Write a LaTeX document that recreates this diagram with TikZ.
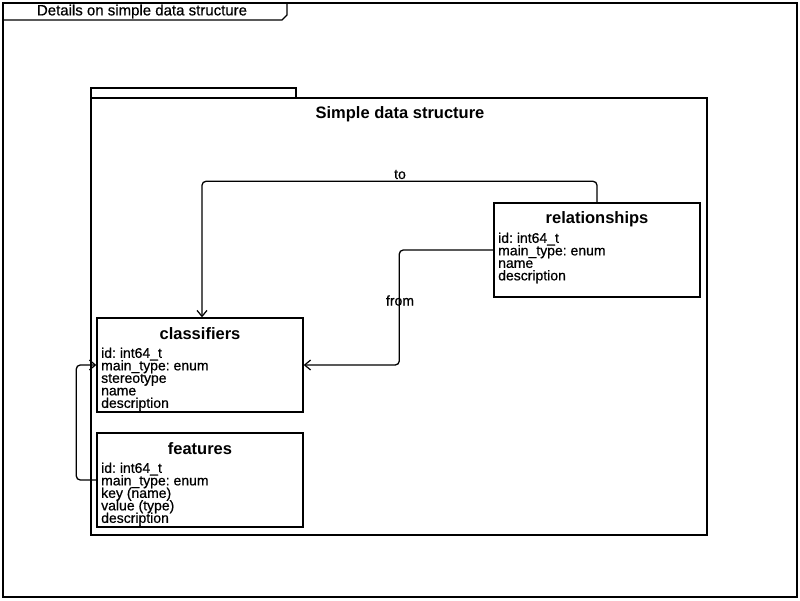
\documentclass[tikz,border=0pt]{standalone}
\usepackage{fontspec}
\setmainfont{Liberation Sans}
\newfontfamily\heavyfont[FakeBold=0.6]{Liberation Sans}
\newcommand\attrfontsetup{\heavyfont\fontsize{14}{12.5}\selectfont\lineskiplimit=-50pt\relax\lineskip=0pt\relax}
\usetikzlibrary{arrows.meta}
\begin{document}
\frenchspacing
\begin{tikzpicture}[x=1pt,y=-1pt,
  frameline/.style={draw=black, line width=1.2pt},
  classbox/.style={draw=black, line width=1.4pt, minimum width=206pt, minimum height=94pt, inner sep=0pt},
  classtitle/.style={font=\fontsize{16.5}{16.5}\selectfont\bfseries, inner sep=0pt},
  attrs/.style={font=\attrfontsetup, align=left, inner sep=0pt, anchor=north west},
  conn/.style={draw=black, line width=1.3pt, rounded corners=4pt, -{Straight Barb[length=6pt,width=10pt,line width=1.2pt]}},
  lbl/.style={font=\heavyfont\fontsize{14}{14}\selectfont, inner sep=0pt}
]
\useasboundingbox (0,0) rectangle (800,600);
% outer frame
\draw[frameline] (3,3) rectangle (797,597);
\draw[frameline] (3,20) -- (282,20) -- (287,15) -- (287,3);
\node[lbl, font=\heavyfont\fontsize{15}{15}\selectfont] (frametitle) at (142,11.5) {Details on simple data structure};
% package
\draw[frameline] (91,88) rectangle (296,98);
\draw[frameline] (91,98) rectangle (707,535);
\node[classtitle] (pkgtitle) at (400,114) {Simple data structure};
% classes
\node[classbox] (classifiers) at (200,365) {};
\node[classtitle] (classifiersT) at (200,334) {classifiers};
\node[attrs] (classifiersA) at (101,347.5) {id: int64\_t\\main\_type: enum\\stereotype\\name\\description};

\node[classbox] (features) at (200,480) {};
\node[classtitle] (featuresT) at (200,449) {features};
\node[attrs] (featuresA) at (101,462.5) {id: int64\_t\\main\_type: enum\\key (name)\\value (type)\\description};

\node[classbox] (relationships) at (597,250) {};
\node[classtitle] (relationshipsT) at (597,219) {relationships};
\node[attrs] (relationshipsA) at (498,232.5) {id: int64\_t\\main\_type: enum\\name\\description};
% connectors
\draw[conn] (relationships.north) -- ++(0,-21) -| ([xshift=2pt]classifiers.north);
\node[lbl] (tolbl) at (400,174.5) {to};
\draw[conn] (relationships.west) -- ++(-94,0) |- (classifiers.east);
\node[lbl] (fromlbl) at (400,300.5) {from};
\draw[conn] (features.west) -- ++(-20,0) |- (classifiers.west);
\end{tikzpicture}
\end{document}
